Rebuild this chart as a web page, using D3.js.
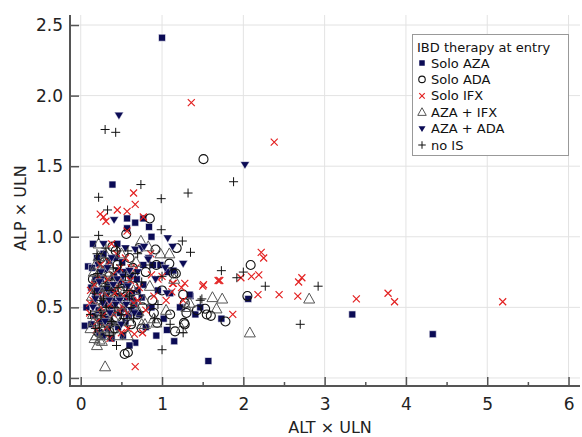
<!DOCTYPE html>
<html><head><meta charset="utf-8">
<script src="https://cdn.jsdelivr.net/npm/d3@7"></script>
<style>body{margin:0;background:#fff}svg{display:block;font-family:"DejaVu Sans",sans-serif}</style>
</head><body><svg id="c" width="582" height="437"></svg>
<script>
// ---- data ----
const xTicks = [0,1,2,3,4,5,6];
const yTicks = [0,0.5,1,1.5,2,2.5];
const seriesNames = ["Solo AZA","Solo ADA","Solo IFX","AZA + IFX","AZA + ADA","no IS"];
const soloAZA = [[1.00,2.41],[0.39,1.37],[1.57,0.12],[3.34,0.45],[4.33,0.31],[2.06,0.56],[1.15,0.26],[1.06,0.34],[0.93,0.30],[0.67,0.25],[0.60,0.23],[0.05,0.37],[0.57,1.13],[0.67,1.10],[0.77,1.13],[0.57,1.06],[0.84,1.07],[0.87,1.00],[1.73,0.42],[1.02,0.42],[1.35,0.58],[1.24,0.50],[1.41,0.45],[0.85,0.50],[1.07,0.75],[0.09,0.79],[0.21,0.81],[0.35,0.83],[0.46,0.76],[0.13,0.64],[0.21,0.59],[0.40,0.62],[0.57,0.57],[0.64,0.55],[0.75,0.57],[0.07,0.50],[0.17,0.44],[0.36,0.40],[0.48,0.46],[0.64,0.47],[0.13,0.38],[0.77,0.66],[1.14,0.76],[1.34,0.59],[0.87,0.50],[1.22,0.50],[0.89,0.80],[0.77,0.80],[1.47,0.50],[0.25,0.70],[0.30,0.52],[0.33,0.35],[0.42,0.55],[0.50,0.68],[0.55,0.40],[0.62,0.72],[0.70,0.62],[0.28,0.88],[0.15,0.95],[0.45,0.95],[0.52,0.30],[0.38,0.28],[0.23,0.32],[0.18,0.60],[0.72,0.45],[0.80,0.36],[0.95,0.62],[0.98,0.80],[1.10,0.60],[0.14,0.78],[0.27,0.46],[0.44,0.85],[0.18,0.70],[0.22,0.48],[0.26,0.62],[0.29,0.77],[0.32,0.42],[0.34,0.66],[0.37,0.50],[0.41,0.72],[0.43,0.38],[0.47,0.58],[0.51,0.82],[0.53,0.49],[0.56,0.66],[0.59,0.44],[0.63,0.60],[0.16,0.53],[0.24,0.40],[0.31,0.58],[0.39,0.46],[0.46,0.36],[0.20,0.85],[0.27,0.30],[0.54,0.75],[0.66,0.52],[0.69,0.70]];
const soloADA = [[1.51,1.55],[0.85,1.13],[0.56,1.02],[0.39,0.93],[1.18,0.92],[0.92,0.91],[1.09,0.81],[1.17,0.74],[2.09,0.80],[2.05,0.58],[1.53,0.49],[1.60,0.44],[1.78,0.40],[1.26,0.59],[1.28,0.53],[1.30,0.46],[1.27,0.39],[1.43,0.48],[0.90,0.46],[0.94,0.39],[0.54,0.17],[0.58,0.18],[1.10,0.45],[1.16,0.33],[1.28,0.38],[0.93,0.80],[1.14,0.74],[1.55,0.45],[0.25,0.85],[0.35,0.72],[0.48,0.62],[0.60,0.85],[0.70,0.45],[0.30,0.48],[0.42,0.35],[0.55,0.55],[0.65,0.65],[0.20,0.55],[0.80,0.75],[0.88,0.55],[0.45,0.80],[0.75,0.35],[0.38,0.60],[1.00,0.62],[0.15,0.70],[0.28,0.40],[0.62,0.38],[0.72,0.92],[0.19,0.64],[0.23,0.45],[0.27,0.70],[0.31,0.53],[0.34,0.38],[0.37,0.67],[0.41,0.56],[0.44,0.43],[0.47,0.74],[0.50,0.52],[0.53,0.35],[0.57,0.70],[0.60,0.49],[0.64,0.78],[0.68,0.58],[0.22,0.32],[0.29,0.82],[0.43,0.90],[0.51,0.63],[0.76,0.50]];
const soloIFX = [[1.36,1.95],[2.38,1.67],[0.65,1.31],[0.67,1.23],[0.24,1.16],[0.28,1.14],[0.31,1.11],[0.45,1.19],[0.57,1.18],[0.77,1.14],[0.57,1.04],[0.86,0.88],[2.22,0.89],[2.25,0.85],[1.71,0.69],[2.10,0.72],[2.19,0.73],[1.50,0.65],[1.97,0.71],[2.18,0.59],[2.44,0.59],[2.68,0.68],[2.72,0.71],[2.67,0.58],[3.39,0.56],[3.78,0.60],[3.86,0.54],[5.19,0.54],[1.87,0.45],[1.69,0.69],[1.28,0.67],[1.24,0.64],[1.13,0.67],[0.87,0.73],[1.00,0.72],[0.67,0.08],[0.76,0.32],[0.66,0.31],[0.11,0.46],[0.11,0.53],[1.14,0.67],[1.51,0.66],[1.12,0.61],[1.26,0.55],[0.36,0.28],[0.15,0.55],[0.22,0.72],[0.30,0.60],[0.40,0.45],[0.48,0.78],[0.52,0.50],[0.60,0.62],[0.70,0.55],[0.35,0.82],[0.20,0.40],[0.45,0.65],[0.58,0.35],[0.80,0.48],[0.90,0.58],[0.25,0.50],[0.12,0.62],[0.38,0.95],[0.62,0.78],[0.95,0.70],[1.05,0.55],[0.55,0.85],[0.17,0.66],[0.21,0.58],[0.24,0.80],[0.27,0.44],[0.33,0.70],[0.36,0.52],[0.42,0.60],[0.46,0.48],[0.49,0.70],[0.53,0.58],[0.57,0.46],[0.61,0.69],[0.65,0.53],[0.72,0.64],[0.19,0.34],[0.32,0.36],[0.39,0.73],[0.44,0.88],[0.50,0.32],[0.68,0.78]];
const azaIFX = [[0.30,0.08],[2.08,0.32],[2.81,0.56],[1.62,0.57],[1.74,0.56],[1.67,0.49],[0.22,0.95],[0.74,0.97],[0.98,0.88],[1.09,0.88],[0.83,0.93],[0.20,0.72],[0.23,0.27],[0.20,0.23],[1.34,0.53],[1.24,0.35],[0.71,0.47],[0.75,0.38],[0.93,0.39],[0.27,0.30],[0.79,0.38],[0.58,0.30],[0.15,0.45],[0.18,0.80],[0.25,0.60],[0.32,0.75],[0.28,0.35],[0.40,0.50],[0.45,0.30],[0.50,0.88],[0.55,0.45],[0.62,0.55],[0.68,0.82],[0.35,0.40],[0.42,0.68],[0.12,0.35],[0.20,0.50],[0.52,0.60],[0.85,0.65],[0.90,0.42],[1.05,0.48],[1.15,0.70],[1.30,0.50],[0.78,0.55],[0.30,0.88],[0.22,0.65],[0.17,0.28],[0.14,0.58],[0.16,0.40],[0.18,0.66],[0.19,0.30],[0.21,0.55],[0.23,0.42],[0.24,0.76],[0.26,0.50],[0.28,0.64],[0.30,0.45],[0.33,0.58],[0.36,0.34],[0.38,0.70],[0.41,0.42],[0.44,0.60],[0.47,0.52],[0.16,0.75],[0.22,0.86],[0.26,0.26],[0.34,0.80],[0.49,0.40],[0.56,0.72],[0.60,0.40],[0.65,0.62]];
const azaADA = [[0.47,1.86],[2.02,1.51],[0.41,1.12],[0.67,0.91],[0.75,0.92],[1.07,0.99],[0.78,0.93],[0.84,0.85],[1.13,0.93],[1.26,0.81],[0.83,0.84],[1.04,0.78],[1.06,0.60],[0.25,0.75],[0.35,0.55],[0.45,0.70],[0.55,0.92],[0.62,0.48],[0.30,0.40],[0.20,0.62],[0.50,0.38],[0.70,0.75],[0.38,0.85],[0.15,0.50],[0.58,0.65],[0.92,0.70],[0.28,0.95],[0.48,0.55],[0.18,0.56],[0.23,0.68],[0.27,0.53],[0.32,0.63],[0.36,0.46],[0.40,0.66],[0.43,0.52],[0.52,0.72],[0.56,0.52],[0.60,0.76],[0.66,0.46],[0.33,0.78]];
const noIS = [[0.30,1.76],[0.43,1.74],[0.74,1.37],[1.88,1.39],[1.32,1.31],[0.22,1.28],[0.33,1.19],[0.99,1.27],[0.99,1.05],[0.22,1.01],[1.25,0.97],[1.35,0.89],[1.73,0.76],[2.00,0.75],[1.92,0.71],[2.27,0.65],[2.92,0.65],[2.70,0.38],[1.49,0.56],[1.00,0.20],[0.44,0.23],[0.91,0.42],[1.26,0.32],[1.00,0.72],[1.47,0.55],[0.20,0.88],[0.30,0.65],[0.40,0.78],[0.50,0.45],[0.60,0.58],[0.18,0.35],[0.35,0.30],[0.45,0.90],[0.55,0.72],[0.65,0.42],[0.75,0.68],[0.25,0.55],[0.85,0.80],[0.12,0.45],[0.70,0.88],[0.95,0.52],[1.10,0.38],[0.17,0.60],[0.21,0.74],[0.25,0.44],[0.28,0.56],[0.32,0.50],[0.35,0.62],[0.38,0.40],[0.42,0.50],[0.46,0.64],[0.49,0.80],[0.53,0.42],[0.57,0.62],[0.62,0.50],[0.67,0.74],[0.23,0.36],[0.40,0.32],[0.31,0.92],[0.58,0.90]];
const seriesData = [soloAZA, soloADA, soloIFX, azaIFX, azaADA, noIS];

// ---- layout ----
const svg = d3.select("#c");
const L = 70, R = 580, T = 15, B = 386;
const x = d3.scaleLinear().domain([-0.132, 6.141]).range([L, R]);
const y = d3.scaleLinear().domain([-0.057, 2.571]).range([B, T]);

const navy = "#0b0b55", red = "#e32222";
function shape(kind, s) {
  const h = s/2;
  switch(kind){
    case 0: return `M${-h},${-h}H${h}V${h}H${-h}Z`;
    case 1: return `M${h},0A${h},${h} 0 1,1 ${-h},0A${h},${h} 0 1,1 ${h},0Z`;
    case 2: return `M${-h},${-h}L${h},${h}M${-h},${h}L${h},${-h}`;
    case 3: return `M0,${-h*1.05}L${h},${h*0.75}L${-h},${h*0.75}Z`;
    case 4: return `M${-h},${-h*0.7}L${h},${-h*0.7}L0,${h*0.95}Z`;
    case 5: return `M${-h},0H${h}M0,${-h}V${h}`;
  }
}
const styles = [
  {size:7, fill:navy, stroke:"#fff", sw:0.6},
  {size:9, fill:"none", stroke:"#111", sw:1.1},
  {size:7, fill:"none", stroke:red, sw:1.2},
  {size:11, fill:"none", stroke:"#555", sw:1},
  {size:9, fill:navy, stroke:"#fff", sw:0.4},
  {size:9, fill:"none", stroke:"#111", sw:1}
];
const legSize = [5.5, 6.5, 5.5, 8.5, 7, 7.5];

// grid
const g = svg.append("g");
g.selectAll(".gx").data(xTicks).join("line")
  .attr("x1", d=>x(d)).attr("x2", d=>x(d)).attr("y1", T).attr("y2", B)
  .attr("stroke", "#e3e3e3").attr("stroke-width", 1);
g.selectAll(".gy").data(yTicks).join("line")
  .attr("x1", L).attr("x2", R).attr("y1", d=>y(d)).attr("y2", d=>y(d))
  .attr("stroke", "#e3e3e3").attr("stroke-width", 1);

// points
seriesData.forEach((data, i) => {
  const st = styles[i];
  svg.append("g").selectAll("path").data(data).join("path")
    .attr("transform", d => `translate(${x(d[0])},${y(d[1])})`)
    .attr("d", shape(i, st.size))
    .attr("fill", st.fill).attr("stroke", st.stroke).attr("stroke-width", st.sw);
});

// axes
const xAxis = d3.axisBottom(x).tickValues(xTicks).tickFormat(d3.format("d")).tickSizeInner(-9).tickSizeOuter(0).tickPadding(12);
const xa = svg.append("g").attr("transform", `translate(0,${B})`).call(xAxis);
const xMinor = d3.axisBottom(x).tickValues([0.5,1.5,2.5,3.5,4.5,5.5]).tickFormat("").tickSizeInner(-4).tickSizeOuter(0);
const xm = svg.append("g").attr("transform", `translate(0,${B})`).call(xMinor);
const yAxis = d3.axisLeft(y).tickValues(yTicks).tickFormat(d3.format(".1f")).tickSizeInner(-9).tickSizeOuter(0).tickPadding(7);
const ya = svg.append("g").attr("transform", `translate(${L},0)`).call(yAxis);
[xa, xm, ya].forEach(a => {
  a.select(".domain").attr("stroke", "#555").attr("stroke-width", 2);
  a.selectAll(".tick line").attr("stroke", "#555").attr("stroke-width", 1.5);
  a.selectAll("text").attr("fill", "#222").attr("font-size", 17).attr("font-family", "DejaVu Sans");
});
xm.select(".domain").remove();
xa.select(".domain").attr("d", `M${L-1},0H${R}`);
ya.select(".domain").attr("d", `M0,${T}V${B+1}`);

// axis titles
svg.append("text").attr("x", 330).attr("y", 433).attr("text-anchor", "middle")
  .attr("font-size", 16).attr("fill", "#222").text("ALT × ULN");
svg.append("text").attr("transform", "translate(26,208) rotate(-90)").attr("text-anchor", "middle")
  .attr("font-size", 16).attr("fill", "#222").text("ALP × ULN");

// legend
const lg = svg.append("g");
lg.append("rect").attr("x", 412.5).attr("y", 34.5).attr("width", 156).attr("height", 121)
  .attr("fill", "#fff").attr("stroke", "#999").attr("stroke-width", 1);
lg.append("text").attr("x", 417).attr("y", 52).attr("font-size", 13).attr("fill", "#111").text("IBD therapy at entry");
seriesNames.forEach((name, i) => {
  const cy = 67.5 + i*16.4;
  const st = styles[i];
  lg.append("path").attr("transform", `translate(422,${cy-4.5})`).attr("d", shape(i, legSize[i]))
    .attr("fill", st.fill).attr("stroke", i===0||i===4 ? "none" : st.stroke).attr("stroke-width", st.sw);
  lg.append("text").attr("x", 431).attr("y", cy).attr("font-size", 13).attr("fill", "#111").text(name);
});
</script></body></html>
